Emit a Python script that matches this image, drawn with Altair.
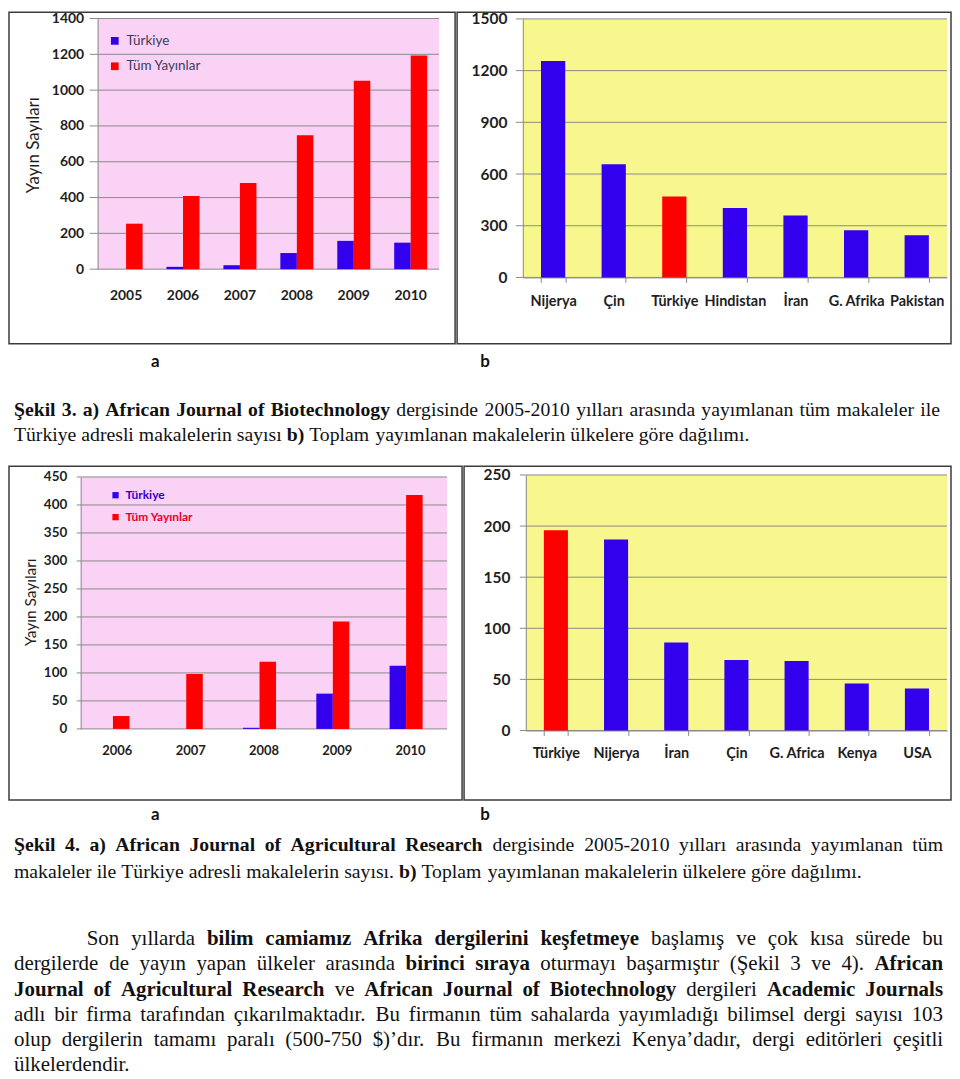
import altair as alt
import pandas as pd

# ---------------- data ----------------
SERIES = ["Türkiye", "Tüm Yayınlar"]

YEARS_A = ["2005", "2006", "2007", "2008", "2009", "2010"]
TURKIYE_A = [0, 13, 22, 90, 158, 148]
TUM_A = [254, 408, 481, 748, 1052, 1193]
TICKS_A = [0, 200, 400, 600, 800, 1000, 1200, 1400]

COUNTRIES_B = ["Nijerya", "Çin", "Türkiye", "Hindistan", "İran", "G. Afrika", "Pakistan"]
VALUES_B = [1256, 657, 470, 403, 360, 274, 245]
TICKS_B = [0, 300, 600, 900, 1200, 1500]

YEARS_C = ["2006", "2007", "2008", "2009", "2010"]
TURKIYE_C = [0, 0, 2, 63, 113]
TUM_C = [23, 98, 120, 192, 418]
TICKS_C = [0, 50, 100, 150, 200, 250, 300, 350, 400, 450]

COUNTRIES_D = ["Türkiye", "Nijerya", "İran", "Çin", "G. Africa", "Kenya", "USA"]
VALUES_D = [196, 187, 86, 69, 68, 46, 41]
TICKS_D = [0, 50, 100, 150, 200, 250]

Y_TITLE = "Yayın Sayıları"

# ---------------- styles ----------------
FRAME = "#3c3c3c"
GRID = "#8a8a8a"
BLUE = "#3300ee"
RED = "#ff0000"
PINK = "#f9d2f5"
YELLOW = "#f7f78e"
LABEL = "#1e1e1e"
SANS = "Lato"
SERIF = "Liberation Serif"


def frame_view():
    return alt.ViewBackground(stroke=FRAME, strokeWidth=1.5)


def background(g):
    return alt.Chart(alt.Data(values=[{}])).mark_rect(color=g["fill"]).encode(
        x=alt.value(g["x0"]), x2=alt.value(g["x1"]),
        y=alt.value(g["yt"]), y2=alt.value(g["yb"]))


def yscale(ticks, g):
    return alt.Scale(domain=[0, ticks[-1]], range=[g["yb"], g["yt"]], nice=False)


def y_axis(ticks, g, title=None):
    kw = dict(values=ticks, format="d", grid=False, ticks=False, domain=True, domainColor=GRID,
              labelFont=SANS, labelFontWeight="bold", labelFontSize=g["ylab_fs"],
              labelColor=LABEL, labelPadding=g["ylab_pad"], offset=-g["x0"], zindex=1)
    if title:
        kw.update(title=title, titleFont=SANS, titleFontWeight="normal",
                  titleFontSize=g["title_fs"], titleColor=LABEL,
                  titleX=g["title_x"], titleY=g["title_y"], titleBaseline="middle",
                  titleAngle=270)
    else:
        kw.update(title=None)
    return alt.Axis(**kw)


def gridlines(ticks, g, title=None):
    return alt.Chart(pd.DataFrame({"value": ticks})).mark_rule(color=GRID, strokeWidth=1).encode(
        y=alt.Y("value:Q", scale=yscale(ticks, g), axis=y_axis(ticks, g, title)),
        x=alt.value(g["gx0"]), x2=alt.value(g["x1"]))


def grouped_panel(years, tur, tum, ticks, g, legend):
    df = pd.DataFrame({
        "year": years + years,
        "series": [SERIES[0]] * len(years) + [SERIES[1]] * len(years),
        "value": tur + tum,
    })
    bars = alt.Chart(df).mark_bar().encode(
        x=alt.X("year:N", sort=years,
                scale=alt.Scale(range=[g["x0"], g["x1"]], paddingInner=g["pi"], paddingOuter=g["pi"] / 2),
                axis=alt.Axis(title=None, domain=False, ticks=False, labelAngle=0,
                              labelFont=SANS, labelFontWeight="bold", labelFontSize=g["xlab_fs"],
                              labelColor=LABEL, labelPadding=g["xlab_pad"], labelBaseline="middle",
                              offset=g["yb"] - g["h"])),
        xOffset=alt.XOffset("series:N", sort=SERIES, scale=alt.Scale(paddingInner=0, paddingOuter=0)),
        y=alt.Y("value:Q", scale=yscale(ticks, g), axis=y_axis(ticks, g, Y_TITLE)),
        color=alt.Color("series:N", scale=alt.Scale(domain=SERIES, range=[BLUE, RED]), legend=legend),
    )
    return alt.layer(background(g), gridlines(ticks, g, Y_TITLE), bars).properties(
        width=g["w"], height=g["h"], view=frame_view())


def country_panel(countries, values, ticks, g):
    df = pd.DataFrame({"country": countries, "value": values})
    bars = alt.Chart(df).mark_bar().encode(
        x=alt.X("country:N", sort=countries,
                scale=alt.Scale(range=[g["x0"], g["x1"]], paddingInner=g["pi"], paddingOuter=g["pi"] / 2),
                axis=alt.Axis(title=None, domain=True, domainColor=GRID, ticks=True, tickBand="extent",
                              tickSize=5, tickColor=GRID, labelAngle=0,
                              labelFont=SANS, labelFontWeight="bold", labelFontSize=g["xlab_fs"],
                              labelColor=LABEL, labelPadding=g["xlab_pad"], labelBaseline="middle",
                              offset=g["yb"] - g["h"])),
        y=alt.Y("value:Q", scale=yscale(ticks, g), axis=y_axis(ticks, g)),
        color=alt.when(alt.datum.country == "Türkiye").then(alt.value(RED)).otherwise(alt.value(BLUE)),
    )
    return alt.layer(background(g), gridlines(ticks, g), bars).properties(
        width=g["w"], height=g["h"], view=frame_view())


GEO_A = dict(w=448, h=333, x0=89, x1=432, yt=6.3, yb=258, gx0=81, pi=0.42,
             ylab_pad=14, ylab_fs=14, xlab_fs=14, xlab_pad=26,
             title_x=-64, title_y=133, title_fs=17, fill=PINK)
GEO_B = dict(w=496, h=333, x0=66, x1=492, yt=6.7, yb=266.3, gx0=59, pi=0.6,
             ylab_pad=16, ylab_fs=15.5, xlab_fs=14.5, xlab_pad=19, fill=YELLOW)
GEO_C = dict(w=455, h=335, x0=72, x1=440, yt=10.7, yb=263.7, gx0=68, pi=0.43,
             ylab_pad=14, ylab_fs=13.5, xlab_fs=13, xlab_pad=22,
             title_x=-50, title_y=136, title_fs=15.5, fill=PINK)
GEO_D = dict(w=489, h=335, x0=62, x1=485, yt=8.7, yb=265.3, gx0=56, pi=0.6,
             ylab_pad=16, ylab_fs=15.5, xlab_fs=14.5, xlab_pad=18, fill=YELLOW)

legend_a = alt.Legend(orient="none", legendX=99.5, legendY=22, title=None, symbolType="square",
                      symbolSize=60, symbolStrokeWidth=0, labelFont=SANS, labelFontSize=13.5,
                      labelColor="#3c3c5c", rowPadding=10.5, labelOffset=5, padding=0)
legend_c = alt.Legend(orient="none", legendX=101, legendY=23, title=None, symbolType="square",
                      symbolSize=40, symbolStrokeWidth=0, labelFont=SANS, labelFontSize=12,
                      labelFontWeight="bold", rowPadding=10, labelOffset=4, padding=0,
                      labelColor=alt.ExprRef(expr="datum.label == 'Türkiye' ? '#3300cc' : '#e8001c'"))

panel_a = grouped_panel(YEARS_A, TURKIYE_A, TUM_A, TICKS_A, GEO_A, legend_a)
panel_b = country_panel(COUNTRIES_B, VALUES_B, TICKS_B, GEO_B)
panel_c = grouped_panel(YEARS_C, TURKIYE_C, TUM_C, TICKS_C, GEO_C, legend_c)
panel_d = country_panel(COUNTRIES_D, VALUES_D, TICKS_D, GEO_D)

# ---------------- caption / paragraph text ----------------
# Times-compatible advance widths (per 1000 em) used to justify lines like the page does.
_REG = dict(zip("abcdefghijklmnopqrstuvwxyz",
                [444, 500, 444, 500, 444, 333, 500, 500, 278, 278, 500, 278, 778, 500, 500, 500, 500, 333,
                 389, 278, 500, 500, 722, 500, 500, 444]))
_REG.update(zip("ABCDEFGHIJKLMNOPQRSTUVWXYZ",
                [722, 667, 667, 722, 611, 556, 722, 722, 333, 389, 722, 611, 889, 722, 722, 556, 722, 667,
                 556, 611, 722, 722, 944, 722, 722, 611]))
_REG.update({"ı": 278, "ş": 389, "ç": 444, "ğ": 500, "ü": 500, "ö": 500, "İ": 333, "Ş": 556, "Ç": 667,
             ".": 250, ",": 250, "(": 333, ")": 333, "-": 333, "$": 500, "’": 333, " ": 250})
_BOLD = dict(zip("abcdefghijklmnopqrstuvwxyz",
                 [500, 556, 444, 556, 444, 333, 500, 556, 278, 333, 556, 278, 833, 556, 500, 556, 556, 444,
                  389, 333, 556, 500, 722, 500, 500, 444]))
_BOLD.update(zip("ABCDEFGHIJKLMNOPQRSTUVWXYZ",
                 [722, 667, 722, 722, 667, 611, 778, 778, 389, 500, 778, 667, 944, 722, 778, 611, 778, 722,
                  556, 667, 722, 722, 1000, 722, 722, 667]))
_BOLD.update({"ı": 278, "ş": 389, "ç": 444, "ğ": 500, "ü": 556, "ö": 500, "İ": 389, "Ş": 556, "Ç": 722,
              ".": 250, ",": 250, "(": 333, ")": 333, "-": 333, "$": 500, "’": 333, " ": 250})


def word_width(word, bold, size):
    table = _BOLD if bold else _REG
    return sum(table.get(ch, 500) for ch in word) / 1000.0 * size


def layout_line(segments, x_start, y, size, x_end=None):
    """segments: list of (text, bold). Returns rows (text, x, y, style, size)."""
    words = []
    for text, bold in segments:
        for w in text.split():
            words.append((w, bold))
    widths = [word_width(w, b, size) for w, b in words]
    space = 0.25 * size
    if x_end is not None and len(words) > 1:
        space = (x_end - x_start - sum(widths)) / (len(words) - 1)
    rows, x = [], x_start
    for (w, b), wd in zip(words, widths):
        rows.append((w, x, y, "B" if b else "R", size))
        x += wd + space
    return rows


CAP_SIZE = 19.8
PAR_SIZE = 21
PAR_Y0, PAR_DY = 138, 25.3

cap1_rows = [("a", 147, 16, "L", 17), ("b", 478, 16, "L", 17)]
cap1_rows += layout_line([("Şekil 3. a) African Journal of Biotechnology", True),
                          ("dergisinde 2005-2010 yılları arasında yayımlanan tüm makaleler ile", False)],
                         5, 64, CAP_SIZE, 935)
cap1_rows += layout_line([("Türkiye adresli makalelerin sayısı", False), ("b)", True),
                          ("Toplam yayımlanan makalelerin ülkelere göre dağılımı.", False)],
                         5, 90, CAP_SIZE)

cap2_rows = [("a", 147, 13, "L", 17), ("b", 478, 13, "L", 17)]
cap2_rows += layout_line([("Şekil 4. a) African Journal of Agricultural Research", True),
                          ("dergisinde 2005-2010 yılları arasında yayımlanan tüm", False)],
                         5, 43, CAP_SIZE, 938)
cap2_rows += layout_line([("makaleler ile Türkiye adresli makalelerin sayısı.", False), ("b)", True),
                          ("Toplam yayımlanan makalelerin ülkelere göre dağılımı.", False)],
                         5, 70, CAP_SIZE)
cap2_rows += layout_line([("Son yıllarda", False), ("bilim camiamız Afrika dergilerini keşfetmeye", True),
                          ("başlamış ve çok kısa sürede bu", False)], 78, PAR_Y0, PAR_SIZE, 938)
cap2_rows += layout_line([("dergilerde de yayın yapan ülkeler arasında", False), ("birinci sıraya", True),
                          ("oturmayı başarmıştır (Şekil 3 ve 4).", False), ("African", True)],
                         5, PAR_Y0 + PAR_DY, PAR_SIZE, 938)
cap2_rows += layout_line([("Journal of Agricultural Research", True), ("ve", False),
                          ("African Journal of Biotechnology", True), ("dergileri", False),
                          ("Academic Journals", True)], 5, PAR_Y0 + 2 * PAR_DY, PAR_SIZE, 938)
cap2_rows += layout_line([("adlı bir firma tarafından çıkarılmaktadır. Bu firmanın tüm sahalarda "
                           "yayımladığı bilimsel dergi sayısı 103", False)], 5, PAR_Y0 + 3 * PAR_DY, PAR_SIZE, 938)
cap2_rows += layout_line([("olup dergilerin tamamı paralı (500-750 $)’dır. Bu firmanın merkezi "
                           "Kenya’dadır, dergi editörleri çeşitli", False)], 5, PAR_Y0 + 4 * PAR_DY, PAR_SIZE, 938)
cap2_rows += layout_line([("ülkelerdendir.", False)], 5, PAR_Y0 + 5 * PAR_DY, PAR_SIZE)


def text_block(rows, width, height):
    df = pd.DataFrame(rows, columns=["text", "x", "y", "style", "fs"])
    base = alt.Chart(df).encode(
        x=alt.X("x:Q", scale=None, axis=None),
        y=alt.Y("y:Q", scale=None, axis=None),
        size=alt.Size("fs:Q", scale=None, legend=None),
        text="text:N",
    )
    letters = base.transform_filter(alt.datum.style == "L").mark_text(
        font=SANS, fontWeight="bold", color="#111111", align="center", baseline="middle")
    bold = base.transform_filter(alt.datum.style == "B").mark_text(
        font=SERIF, fontWeight="bold", color="#111111", align="left", baseline="middle")
    reg = base.transform_filter(alt.datum.style == "R").mark_text(
        font=SERIF, fontWeight="normal", color="#111111", align="left", baseline="middle")
    return alt.layer(letters, bold, reg).properties(
        width=width, height=height, view=alt.ViewBackground(stroke="transparent"))


cap1 = text_block(cap1_rows, 944, 119)
cap2 = text_block(cap2_rows, 944, 274)

row1 = alt.hconcat(panel_a, panel_b, spacing=0).resolve_scale(color="independent").resolve_legend(color="independent")
row2 = alt.hconcat(panel_c, panel_d, spacing=0).resolve_scale(color="independent").resolve_legend(color="independent")

chart = alt.vconcat(row1, cap1, row2, cap2, spacing=0).resolve_scale(
    color="independent", size="independent").resolve_legend(color="independent").properties(
    padding=0, background="white"
).configure_view(stroke="transparent").configure_concat(spacing=0)

chart.save("out.html", embed_options={"renderer": "svg", "actions": False})
